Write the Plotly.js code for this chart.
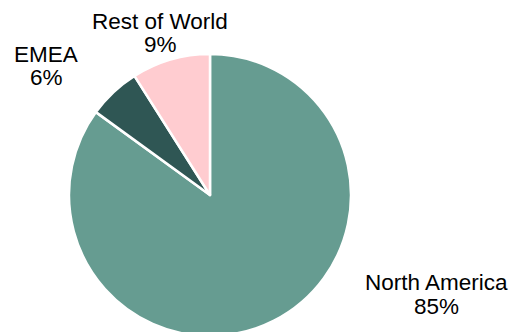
<!DOCTYPE html>
<html>
<head>
<meta charset="utf-8">
<script src="https://cdn.plot.ly/plotly-3.0.1.min.js"></script>
<style>
html, body { margin: 0; padding: 0; overflow: hidden; background: #fff; }
#chart { width: 518px; height: 340px; }
</style>
</head>
<body>
<div id="chart"></div>
<script>
// Data
const regions = ['North America', 'EMEA', 'Rest of World'];
const shares = [85, 6, 9];
const sliceColors = ['#669C91', '#2F5654', '#FFCCD0'];

// Label placement (pixel centers: [label line, percent line])
const labelPos = [
  {x: 436, y1: 282, y2: 306},
  {x: 46,  y1: 54,  y2: 78},
  {x: 160, y1: 21,  y2: 45}
];

const W = 518, H = 340;
const px = x => x / W;
const py = y => (H - y) / H;

const total = shares.reduce((a, b) => a + b, 0);
const font = {family: 'Liberation Sans, Arial, sans-serif', size: 22.5, color: '#000'};

const annotations = [];
regions.forEach((r, i) => {
  const p = labelPos[i];
  annotations.push({xref: 'paper', yref: 'paper', x: px(p.x), y: py(p.y1), text: r,
    showarrow: false, xanchor: 'center', yanchor: 'middle', font: font});
  annotations.push({xref: 'paper', yref: 'paper', x: px(p.x), y: py(p.y2),
    text: Math.round(shares[i] / total * 100) + '%',
    showarrow: false, xanchor: 'center', yanchor: 'middle', font: font});
});

const trace = {
  type: 'pie',
  labels: regions,
  values: shares,
  sort: false,
  direction: 'clockwise',
  rotation: 0,
  textinfo: 'none',
  hoverinfo: 'label+percent',
  marker: {colors: sliceColors, line: {color: '#ffffff', width: 2.5}},
  domain: {x: [69 / W, 351 / W], y: [4 / H, 286 / H]}
};

const layout = {
  width: W, height: H,
  margin: {l: 0, r: 0, t: 0, b: 0},
  showlegend: false,
  paper_bgcolor: '#ffffff',
  annotations: annotations
};

Plotly.newPlot('chart', [trace], layout, {displayModeBar: false, staticPlot: true});
</script>
</body>
</html>
